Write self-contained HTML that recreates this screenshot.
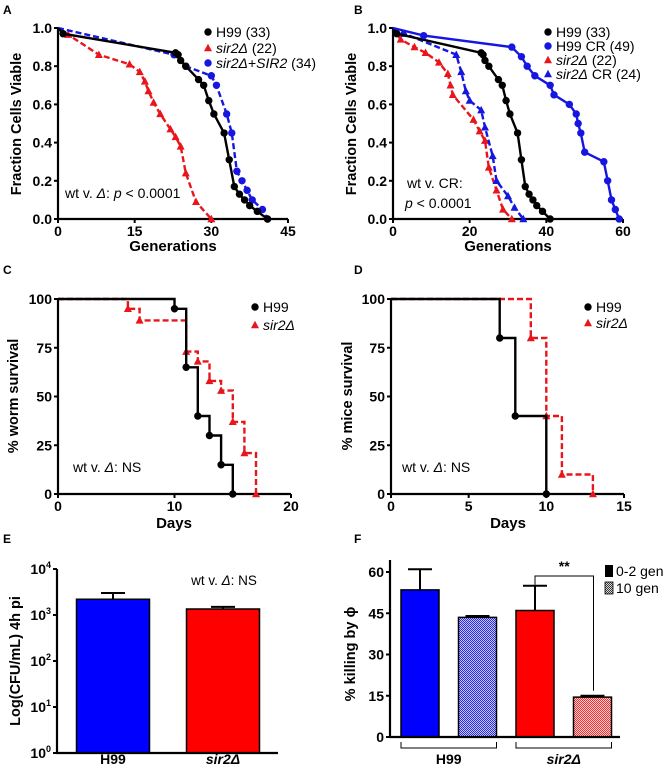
<!DOCTYPE html>
<html><head><meta charset="utf-8"><style>
body{margin:0;background:#fff}
svg{display:block;font-family:"Liberation Sans",Arial,sans-serif}
</style></head><body>
<svg id="fig" width="666" height="770" viewBox="0 0 666 770">
<defs>
<pattern id="hatchBlue" width="2" height="2" patternUnits="userSpaceOnUse"><rect width="2" height="2" fill="#c8c8ff"/><rect width="1" height="1" fill="#2a2ae0"/><rect x="1" y="1" width="1" height="1" fill="#2a2ae0"/></pattern>
<pattern id="hatchRed" width="2" height="2" patternUnits="userSpaceOnUse"><rect width="2" height="2" fill="#ffd0d0"/><rect width="1" height="1" fill="#f03030"/><rect x="1" y="1" width="1" height="1" fill="#f03030"/></pattern>
<pattern id="hatchGray" width="2" height="2" patternUnits="userSpaceOnUse"><rect width="2" height="2" fill="#ddd"/><rect width="1" height="1" fill="#333"/><rect x="1" y="1" width="1" height="1" fill="#333"/></pattern>
</defs>
</svg>
<script>
// ---- Panel A data ----
const aH99Gen=[0,1,23,23.5,24,25,27.5,28.5,29.5,30.5,32.5,33.5,34.5,35.5,36.5,37.5,39,41];
const aH99Frac=[1,0.97,0.87,0.86,0.83,0.80,0.73,0.70,0.62,0.55,0.45,0.31,0.17,0.13,0.10,0.07,0.04,0];
const aSirGen=[0,2,8,14,16,17,17.7,18.7,20,22,23,24,25,27,30];
const aSirFrac=[1,0.965,0.86,0.81,0.77,0.72,0.67,0.61,0.55,0.47,0.43,0.38,0.24,0.09,0];
const aCompGen=[0,22.7,25,30,31,33,34,35,36,37,38,40,41];
const aCompFrac=[1,0.86,0.80,0.75,0.70,0.55,0.45,0.25,0.20,0.15,0.10,0.05,0];
// ---- Panel B data ----
const bCrGen=[0,8,31,33.5,35,37,41,42,46,47.8,48.3,49,50,55,56,57,58,59];
const bCrFrac=[1,0.96,0.90,0.85,0.80,0.75,0.70,0.65,0.60,0.55,0.50,0.45,0.35,0.30,0.20,0.10,0.05,0];
const bSirGen=[0,2,5.6,8.5,12,14.3,15,15.6,21,22.6,24,25,27,28.7,31];
const bSirFrac=[1,0.94,0.90,0.87,0.82,0.76,0.70,0.65,0.52,0.46,0.41,0.27,0.15,0.05,0];
const bSirCrGen=[0,3,16.5,17.8,19,20,23,24,26,27,30,31.7,34];
const bSirCrFrac=[1,0.97,0.86,0.77,0.67,0.62,0.57,0.48,0.33,0.20,0.12,0.06,0];
// ---- Panel C data ----
const cH99Days=[0,10,11,12,13,14,15];
const cH99Surv=[100,95,65,40,30,15,0];
const cSirDays=[0,6,7,11,12,13,14,15,16,17];
const cSirSurv=[100,95,89,73,68,58,53,37,21,0];
// ---- Panel D data ----
const dH99Days=[0,7,8,10];
const dH99Surv=[100,80,40,0];
const dSirDays=[0,9,10,11,13];
const dSirSurv=[100,80,40,10,0];
// ---- Panel E data ----
const eCats=['H99','sir2Δ'];
const eVals=[2200,1350];
const eErr=[3000,1500];
// ---- Panel F data ----
const fCats=['H99 0-2 gen','H99 10 gen','sir2Δ 0-2 gen','sir2Δ 10 gen'];
const fVals=[53.5,43.5,46,14.5];
const fErr=[61,44,55,15];

const svg=document.getElementById('fig');
const NS='http://www.w3.org/2000/svg';
function mk(tag,attrs,parent){const e=document.createElementNS(NS,tag);for(const k in attrs)e.setAttribute(k,attrs[k]);(parent||svg).appendChild(e);return e;}
function lin(d0,d1,r0,r1){return v=>r0+(v-d0)/(d1-d0)*(r1-r0);}
const RED='#e8161c',BLUE='#1616e0';

function axes(P,name){
  const g=mk('g',{});
  
  
  const yl=mk('line',{x1:P.l,x2:P.l,y1:P.yTop||P.t,y2:P.b+1,stroke:'#000','stroke-width':2.2},g);
  
  
  const xl=mk('line',{x1:P.l-1,x2:P.r,y1:P.b,y2:P.b,stroke:'#000','stroke-width':2.2},g);
  
  
  if(P.xt){P.xt.forEach(v=>{const x=P.x(v);
    mk('line',{x1:x,x2:x,y1:P.b,y2:P.b+4,stroke:'#000','stroke-width':2},g);
    const t=mk('text',{x:x,y:P.b+17,'text-anchor':'middle','font-size':14,'font-weight':'bold'},g);
    t.textContent=v;
    
    });}
  P.yt.forEach((v,i)=>{const y=P.y(v);
    mk('line',{x1:P.l-4,x2:P.l,y1:y,y2:y,stroke:'#000','stroke-width':2},g);
    const t=mk('text',{x:P.l-6,y:y+5,'text-anchor':'end','font-size':14,'font-weight':'bold'},g);
    if(P.ylog){t.innerHTML='10<tspan dy="-6" font-size="9">'+v+'</tspan>';}
    else t.textContent=P.yfmt?P.yfmt(v):v;
    
    });
}
function label(x,y,txt,opts,nm){
  const t=mk('text',Object.assign({x:x,y:y,'font-size':13},opts||{}));
  t.innerHTML=txt;
  
  
  return t;
}
function ytitle(x,cy,txt,nm){
  const t=mk('text',{x:0,y:0,transform:'translate('+x+','+cy+') rotate(-90)','text-anchor':'middle','font-size':14.5,'font-weight':'bold'});
  t.innerHTML=txt;
  
  
}
function marker(type,x,y,color,nm){
  let m;
  if(type==='c')m=mk('circle',{cx:x,cy:y,r:3.7,fill:color});
  else m=mk('polygon',{points:(x)+','+(y-4.3)+' '+(x+4)+','+(y+3.2)+' '+(x-4)+','+(y+3.2),fill:color});
  
  
}
function series(P,xs,ys,color,dash,mtype,nm){
  const d=xs.map((v,i)=>(i?'L':'M')+P.x(v).toFixed(1)+','+P.y(ys[i]).toFixed(1)).join('');
  const p=mk('path',{d:d,fill:'none',stroke:color,'stroke-width':2.4,'stroke-dasharray':dash?'6,3':'none'});
  
  
  xs.forEach((v,i)=>{if(i>0)marker(mtype,P.x(v),P.y(ys[i]),color,nm+'-point');});
}
function steps(P,xs,ys,color,dash,mtype,nm){
  let d='M'+P.x(xs[0])+','+P.y(ys[0]);
  for(let i=1;i<xs.length;i++){d+='H'+P.x(xs[i]).toFixed(1)+'V'+P.y(ys[i]).toFixed(1);}
  const p=mk('path',{d:d,fill:'none',stroke:color,'stroke-width':2.4,'stroke-dasharray':dash?'6,3':'none'});
  
  
  xs.forEach((v,i)=>{if(i>0)marker(mtype,P.x(v),P.y(ys[i]),color,nm+'-point');});
}
function legend(x,y,type,color,txt,nm){
  marker(type,x,y,color,nm+'-marker');
  label(x+8,y+5,txt,{'font-size':14},nm);
}

// Panel A
const PA={l:58,r:288,t:28,b:219,xt:[0,15,30,45],yt:[0,0.2,0.4,0.6,0.8,1],yfmt:v=>v.toFixed(1)};
PA.x=lin(0,45,PA.l,PA.r);PA.y=lin(0,1,PA.b,PA.t);
label(3,14,'A',{'font-size':12,'font-weight':'bold'},'panel-label-a');
axes(PA,'panel-a');
ytitle(21,124,'Fraction Cells Viable','panel-a-y-axis-title');
label(173,251,'Generations',{'text-anchor':'middle','font-weight':'bold','font-size':15},'panel-a-x-axis-title');
series(PA,aSirGen,aSirFrac,RED,true,'t','panel-a-sir2');
series(PA,aCompGen,aCompFrac,BLUE,true,'c','panel-a-sir2-sir2');
series(PA,aH99Gen,aH99Frac,'#000',false,'c','panel-a-h99');
legend(208,32,'c','#000','H99 (33)','legend-a-h99');
legend(208,48,'t',RED,'<tspan font-style="italic">sir2Δ</tspan> (22)','legend-a-sir2');
legend(208,63,'c',BLUE,'<tspan font-style="italic">sir2Δ</tspan>+<tspan font-style="italic">SIR2</tspan> (34)','legend-a-sir2-sir2');
label(65,198,'wt v. <tspan font-style="italic">Δ</tspan>: <tspan font-style="italic">p</tspan> &lt; 0.0001',{'font-size':14},'panel-a-stat');

// Panel B
const PB={l:393,r:623,t:28,b:219,xt:[0,20,40,60],yt:[0,0.2,0.4,0.6,0.8,1],yfmt:v=>v.toFixed(1)};
PB.x=lin(0,60,PB.l,PB.r);PB.y=lin(0,1,PB.b,PB.t);
label(354,14,'B',{'font-size':12,'font-weight':'bold'},'panel-label-b');
axes(PB,'panel-b');
ytitle(356,124,'Fraction Cells Viable','panel-b-y-axis-title');
label(508,251,'Generations',{'text-anchor':'middle','font-weight':'bold','font-size':15},'panel-b-x-axis-title');
series(PB,bSirGen,bSirFrac,RED,true,'t','panel-b-sir2');
series(PB,bSirCrGen,bSirCrFrac,BLUE,true,'t','panel-b-sir2-cr');
series(PB,aH99Gen,aH99Frac,'#000',false,'c','panel-b-h99');
series(PB,bCrGen,bCrFrac,BLUE,false,'c','panel-b-h99-cr');
legend(548,32,'c','#000','H99 (33)','legend-b-h99');
legend(548,46,'c',BLUE,'H99 CR (49)','legend-b-h99-cr');
legend(548,60,'t',RED,'<tspan font-style="italic">sir2Δ</tspan> (22)','legend-b-sir2');
legend(548,74,'t',BLUE,'<tspan font-style="italic">sir2Δ</tspan> CR (24)','legend-b-sir2-cr');
label(407,188,'wt v. CR:',{'font-size':14},'panel-b-stat-1');
label(405,208,'<tspan font-style="italic">p</tspan> &lt; 0.0001',{'font-size':14},'panel-b-stat-2');

// Panel C
const PC={l:58,r:291,t:299,b:494,xt:[0,10,20],yt:[0,25,50,75,100]};
PC.x=lin(0,20,PC.l,PC.r);PC.y=lin(0,100,PC.b,PC.t);
label(3,274,'C',{'font-size':12,'font-weight':'bold'},'panel-label-c');
axes(PC,'panel-c');
ytitle(18,396,'% worm survival','panel-c-y-axis-title');
label(174,528,'Days',{'text-anchor':'middle','font-weight':'bold','font-size':15},'panel-c-x-axis-title');
steps(PC,cSirDays,cSirSurv,RED,true,'t','panel-c-sir2');
steps(PC,cH99Days,cH99Surv,'#000',false,'c','panel-c-h99');
legend(255,307,'c','#000','H99','legend-c-h99');
legend(255,325,'t',RED,'<tspan font-style="italic">sir2Δ</tspan>','legend-c-sir2');
label(73,472,'wt v. <tspan font-style="italic">Δ</tspan>: NS',{'font-size':14},'panel-c-stat');

// Panel D
const PD={l:391,r:624,t:299,b:494,xt:[0,5,10,15],yt:[0,25,50,75,100]};
PD.x=lin(0,15,PD.l,PD.r);PD.y=lin(0,100,PD.b,PD.t);
label(354,274,'D',{'font-size':12,'font-weight':'bold'},'panel-label-d');
axes(PD,'panel-d');
ytitle(352,396,'% mice survival','panel-d-y-axis-title');
label(508,528,'Days',{'text-anchor':'middle','font-weight':'bold','font-size':15},'panel-d-x-axis-title');
steps(PD,dSirDays,dSirSurv,RED,true,'t','panel-d-sir2');
steps(PD,dH99Days,dH99Surv,'#000',false,'c','panel-d-h99');
legend(588,307,'c','#000','H99','legend-d-h99');
legend(588,323,'t',RED,'<tspan font-style="italic">sir2Δ</tspan>','legend-d-sir2');
label(402,472,'wt v. <tspan font-style="italic">Δ</tspan>: NS',{'font-size':14},'panel-d-stat');

// Panel E
const PE={l:57,r:278,t:569,b:753,yt:[0,1,2,3,4],ylog:true};
const eY=v=>lin(0,4,PE.b,PE.t)(Math.log10(v));PE.y=lin(0,4,PE.b,PE.t);
const eBand=110,eBarW=73;
label(3,543,'E',{'font-size':12,'font-weight':'bold'},'panel-label-e');
eCats.forEach((c,i)=>{
  const cx=PE.l+1+eBand*(i+0.5),top=eY(eVals[i]),et=eY(eErr[i]);
  const eb=mk('line',{x1:cx,x2:cx,y1:et,y2:top,stroke:'#000','stroke-width':2});
  
  
  const cap=mk('line',{x1:cx-12,x2:cx+12,y1:et,y2:et,stroke:'#000','stroke-width':2});
  
  
  const r=mk('rect',{x:cx-eBarW/2,y:top,width:eBarW,height:PE.b-top,fill:i?'#ff0000':'#0000ff',stroke:'#000','stroke-width':1.5});
  
  
  label(cx,764,i?'<tspan font-style="italic">'+c+'</tspan>':c,{'text-anchor':'middle','font-weight':'bold','font-size':14},'panel-e-x-label');
});
axes(PE,'panel-e');
ytitle(20,661,'Log(CFU/mL) 4h pi','panel-e-y-axis-title');
label(224,585,'wt v. <tspan font-style="italic">Δ</tspan>: NS',{'text-anchor':'middle','font-size':13.5},'panel-e-stat');

// Panel F
const PF={l:390,r:620,t:572,b:737,yTop:560,yt:[0,15,30,45,60]};
PF.y=lin(0,60,PF.b,PF.t);
const fBand=57.5,fBarW=38;
const fFills=['#0000ff','url(#hatchBlue)','#ff0000','url(#hatchRed)'];
label(354,543,'F',{'font-size':12,'font-weight':'bold'},'panel-label-f');
const fCx=[];
fCats.forEach((c,i)=>{
  const cx=PF.l+30+fBand*i;fCx.push(cx);
  const top=PF.y(fVals[i]),et=PF.y(fErr[i]);
  const eb=mk('line',{x1:cx,x2:cx,y1:et,y2:top,stroke:'#000','stroke-width':2});
  
  
  const cap=mk('line',{x1:cx-12,x2:cx+12,y1:et,y2:et,stroke:'#000','stroke-width':2});
  
  
  const r=mk('rect',{x:cx-fBarW/2,y:top,width:fBarW,height:PF.b-top,fill:fFills[i],stroke:'#000','stroke-width':1.5});
  
  
});
axes(PF,'panel-f');
ytitle(355,654,'% killing by ϕ','panel-f-y-axis-title');
// significance bracket
const bx1=fCx[2],bx2=fCx[3]+1,by=576;
const br=mk('path',{d:'M'+bx1+','+(PF.y(fErr[2])-1)+'V'+by+'H'+bx2+'V'+(PF.y(fErr[3])-5),fill:'none',stroke:'#000','stroke-width':1});


label((bx1+bx2)/2,571,'**',{'text-anchor':'middle','font-size':14,'font-weight':'bold'},'panel-f-significance-stars');
// group brackets
[[0,1,'H99'],[2,3,'sir2Δ']].forEach(([a,b,t],k)=>{
  const x1=fCx[a]-fBarW/2,x2=fCx[b]+fBarW/2;
  const gb=mk('path',{d:'M'+x1+',742V748H'+x2+'V742',fill:'none',stroke:'#000','stroke-width':1});
  
  
  label((x1+x2)/2,764,k?'<tspan font-style="italic">'+t+'</tspan>':t,{'text-anchor':'middle','font-weight':'bold','font-size':14},'panel-f-group-label');
});
// legend
const l1=mk('rect',{x:605,y:565,width:8,height:12,fill:'#000'});


const l2=mk('rect',{x:605,y:582,width:8,height:12,fill:'url(#hatchGray)',stroke:'#000','stroke-width':0.8});


label(616,576,'0-2 gen',{'font-size':14},'legend-f-0-2-gen');
label(616,593,'10 gen',{'font-size':14},'legend-f-10-gen');
</script>
</body></html>
